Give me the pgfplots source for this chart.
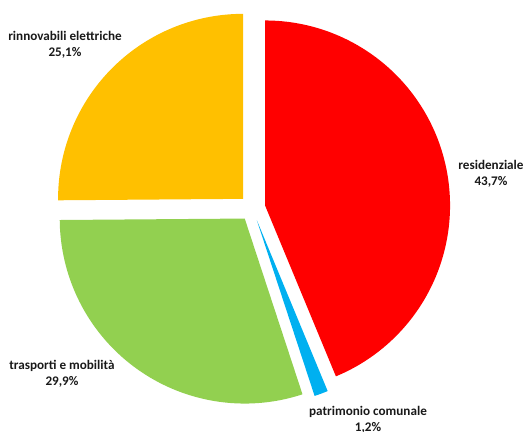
\documentclass[border=0pt]{standalone}
\usepackage{pgfplots}
\pgfplotsset{compat=1.18}
\usepackage{fontspec}
\setmainfont{Carlito}[BoldFont={Carlito Bold}]
\definecolor{cRed}{HTML}{FF0000}
\definecolor{cBlue}{HTML}{00B0F0}
\definecolor{cGreen}{HTML}{92D050}
\definecolor{cOrange}{HTML}{FFC000}
% data (percent)
\def\vRes{43.7}
\def\vPat{1.2}
\def\vTra{29.9}
\def\vRin{25.1}
\pgfmathsetmacro\tot{\vRes+\vPat+\vTra+\vRin}
\def\R{185}
\def\D{13}
\def\cx{252.3}
\def\cy{224}
\newcommand\pieslice[3]{%
 \pgfmathsetmacro\tA{90-#1/\tot*360}%
 \pgfmathsetmacro\tB{90-(#1+#2)/\tot*360}%
 \pgfmathsetmacro\tM{(\tA+\tB)/2}%
 \pgfmathsetmacro\ox{\cx+\D*cos(\tM)}%
 \pgfmathsetmacro\oy{\cy+\D*sin(\tM)}%
 \edef\temp{\noexpand\addplot[fill=#3, draw=none, domain=\tB:\tA, samples=120, variable=\noexpand\t] ({\ox+\R*cos(\noexpand\t)},{\oy+\R*sin(\noexpand\t)}) -- (axis cs:\ox,\oy) -- cycle;}%
 \temp
}
\begin{document}
\begin{tikzpicture}
\begin{axis}[
  at={(0,0)}, anchor=south west,
  width=528bp, height=432bp, scale only axis,
  xmin=0, xmax=528, ymin=0, ymax=432,
  hide axis, clip=false,
]
\pieslice{0}{\vRes}{cRed}
\pgfmathsetmacro\sB{\vRes}
\pieslice{\sB}{\vPat}{cBlue}
\pgfmathsetmacro\sC{\vRes+\vPat}
\pieslice{\sC}{\vTra}{cGreen}
\pgfmathsetmacro\sD{\vRes+\vPat+\vTra}
\pieslice{\sD}{\vRin}{cOrange}
\begin{scope}[every node/.style={align=center, font=\bfseries\fontsize{13.2}{16}\selectfont, text=black!90, inner sep=0pt}]
\node at (axis cs:65,387) {rinnovabili elettriche\\25,1\%};
\node at (axis cs:491,258) {residenziale\\43,7\%};
\node at (axis cs:62,58) {trasporti e mobilità\\29,9\%};
\node at (axis cs:368,12) {patrimonio comunale\\1,2\%};
\end{scope}
\end{axis}
\pgfresetboundingbox
\path[use as bounding box] (0,0) rectangle (528bp,432bp);
\end{tikzpicture}
\end{document}
